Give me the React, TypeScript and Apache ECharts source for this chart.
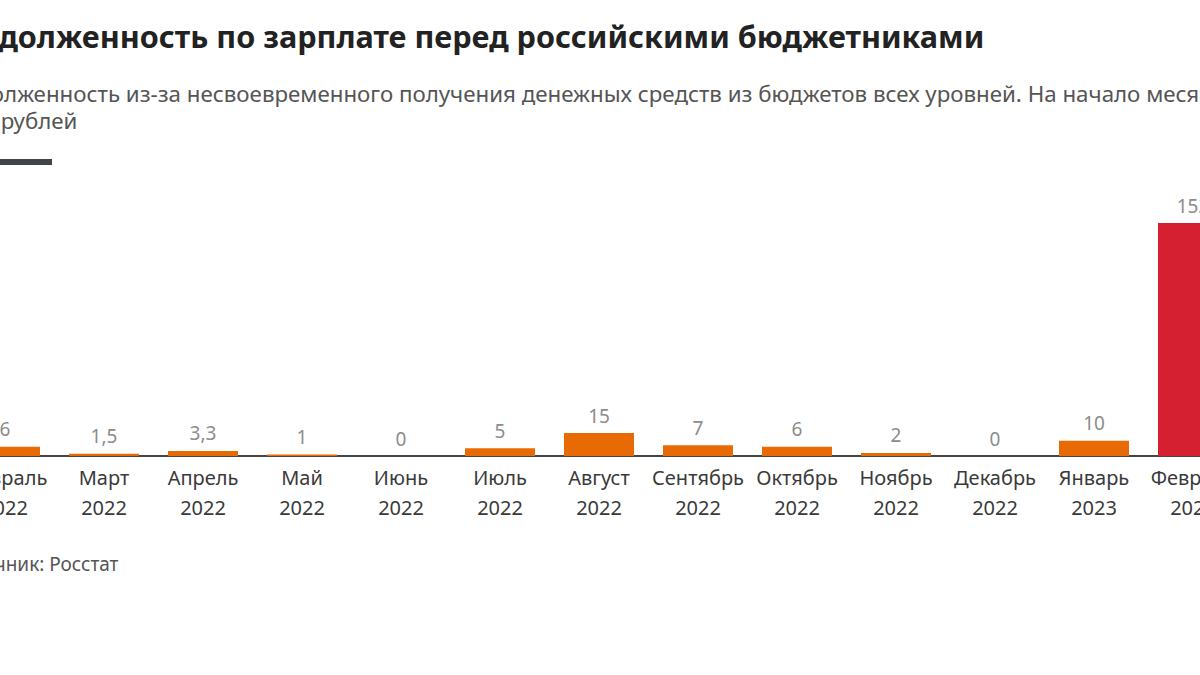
import React, { useEffect, useRef } from "react";
import * as echarts from "echarts";

const months = ["Февраль", "Март", "Апрель", "Май", "Июнь", "Июль", "Август", "Сентябрь", "Октябрь", "Ноябрь", "Декабрь", "Январь", "Февраль"];
const years = ["2022", "2022", "2022", "2022", "2022", "2022", "2022", "2022", "2022", "2022", "2022", "2023", "2023"];
const values = [6, 1.5, 3.3, 1, 0, 5, 15, 7, 6, 2, 0, 10, 152];
const highlightIndex = 12;

const titleText = "Задолженность по зарплате перед российскими бюджетниками";
const subtitleLine1 = "Задолженность из-за несвоевременного получения денежных средств из бюджетов всех уровней. На начало месяца,";
const subtitleLine2 = "млн рублей";
const sourceText = "Источник: Росстат";

const OFFSET = 60;
const FONT = "'Noto Sans', sans-serif";

export default function App() {
  const ref = useRef<HTMLDivElement>(null);
  useEffect(() => {
    if (!ref.current) return;
    const chart = echarts.init(ref.current, undefined, { renderer: "svg" });
    const cats = months.map((m, i) => m + "\n" + years[i]);
    chart.setOption({
      animation: false,
      backgroundColor: "#ffffff",
      textStyle: { fontFamily: FONT },
      grid: { left: OFFSET - 44.5, right: 1320 - (OFFSET - 44.5 + 1287), top: 223, bottom: 219, containLabel: false },
      xAxis: {
        type: "category",
        data: cats,
        axisLine: { lineStyle: { color: "#444", width: 2 } },
        axisTick: { show: false },
        axisLabel: { color: "#3a3a3a", fontSize: 20, lineHeight: 30, margin: 6, interval: 0, fontFamily: FONT },
      },
      yAxis: { type: "value", min: 0, max: 152, show: false, splitLine: { show: false } },
      series: [
        {
          type: "bar",
          data: values.map((v, i) => ({
            value: v,
            itemStyle: { color: i === highlightIndex ? "#d42030" : "#e86a05" },
          })),
          barWidth: 70,
          label: {
            show: true,
            position: "top",
            distance: 8,
            color: "#8c8c8c",
            fontSize: 19,
            fontFamily: FONT,
            formatter: (p: any) => String(p.value).replace(".", ","),
          },
        },
      ],
      graphic: [
        { type: "text", left: OFFSET - 38, top: 20, style: { text: titleText, font: `bold 30.6px ${FONT}`, fill: "#222" } },
        { type: "text", left: OFFSET - 48, top: 80, style: { text: subtitleLine1, font: `22.3px ${FONT}`, lineHeight: 26, fill: "#555" } },
        { type: "text", left: OFFSET - 49, top: 107, style: { text: subtitleLine2, font: `22.3px ${FONT}`, lineHeight: 26, fill: "#555" } },
        { type: "rect", shape: { x: OFFSET - 33, y: 159, width: 33 + 52, height: 6 }, style: { fill: "#3f4446" } },
        { type: "text", left: OFFSET - 49, top: 554, style: { text: sourceText, font: `19px ${FONT}`, fill: "#555" } },
      ],
    });
    return () => chart.dispose();
  }, []);
  return (
    <div style={{ position: "fixed", left: 0, top: 0, width: 1200, height: 675, overflow: "hidden", background: "#fff" }}>
      <div ref={ref} style={{ position: "absolute", left: -OFFSET, top: 0, width: 1320, height: 675 }} />
    </div>
  );
}
